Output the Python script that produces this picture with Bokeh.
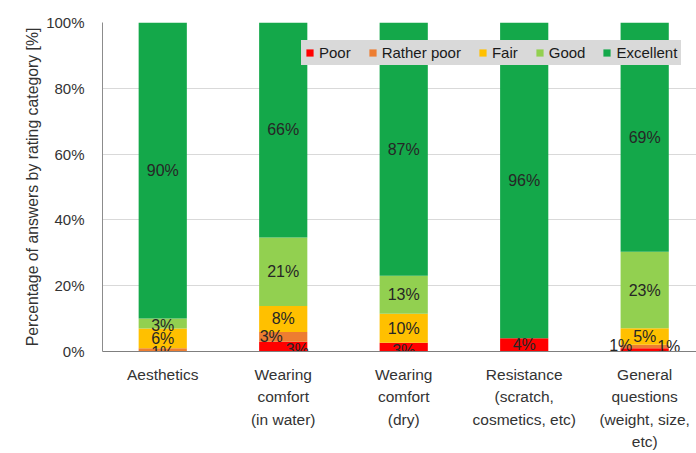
from bokeh.plotting import figure
from bokeh.models import ColumnDataSource, Range1d, FixedTicker, PrintfTickFormatter, Legend, LegendItem
from bokeh.embed import file_html
from bokeh.resources import INLINE
from bokeh.core.properties import value

# ---- data (answer counts in % per rating, as labelled) ----
categories = [
    "Aesthetics",
    "Wearing\ncomfort\n(in water)",
    "Wearing\ncomfort\n(dry)",
    "Resistance\n(scratch,\ncosmetics, etc)",
    "General\nquestions\n(weight, size,\netc)",
]
ratings = ["Poor", "Rather poor", "Fair", "Good", "Excellent"]
poor = [0, 3, 3, 4, 1]
rather_poor = [1, 3, 0, 0, 1]
fair = [6, 8, 10, 0, 5]
good = [3, 21, 13, 0, 23]
excellent = [90, 66, 87, 96, 69]
y_ticks = [0, 20, 40, 60, 80, 100]

colors = ["#ff0000", "#ed7d31", "#ffc000", "#92d050", "#14a84a"]
FONT = "Liberation Sans"

series = [poor, rather_poor, fair, good, excellent]
n = len(categories)
xpos = [i + 0.5 for i in range(n)]
totals = [sum(s[i] for s in series) for i in range(n)]

# 100% stacked: each bar normalised to its total
data = {"x": xpos}
for r, s in zip(ratings, series):
    data[r] = [s[i] / totals[i] * 100 for i in range(n)]
source = ColumnDataSource(data)

p = figure(width=696, height=453, x_range=Range1d(0, 4.93), y_range=Range1d(0, 100),
           output_backend="svg", toolbar_location=None,
           min_border_left=102, min_border_right=0, min_border_top=22, min_border_bottom=101)
p.outline_line_color = None
p.background_fill_color = "white"

rends = p.vbar_stack(ratings, x="x", width=0.4, fill_color=colors, line_color=None, source=source)

# segment labels
nudges = {
    (1, "Rather poor"): (-12, 0),
    (1, "Poor"): (14, 3),
    (2, "Poor"): (0, 3),
    (0, "Rather poor"): (0, 3),
    (4, "Poor"): (-24, -4),
    (4, "Rather poor"): (24, 0),
    (0, "Good"): (0, 2),
}
lx, ly, lt, lxo, lyo = [], [], [], [], []
for i in range(n):
    base = 0.0
    for r, s in zip(ratings, series):
        h = data[r][i]
        if s[i] > 0:
            lx.append(xpos[i])
            ly.append(base + h / 2)
            lt.append(f"{s[i]}%")
            xo, yo = nudges.get((i, r), (0, 0))
            lxo.append(xo)
            lyo.append(yo)
        base += h
lsrc = ColumnDataSource(dict(x=lx, y=ly, text=lt, xo=lxo, yo=lyo))
p.text(x="x", y="y", text="text", x_offset="xo", y_offset="yo", source=lsrc,
       text_align="center", text_baseline="middle", text_font=value(FONT),
       text_font_size="16px", text_color="#262626")

# axes
p.xaxis.ticker = FixedTicker(ticks=xpos)
p.xaxis.major_label_overrides = {x: c for x, c in zip(xpos, categories)}
p.xaxis.major_label_text_font = FONT
p.xaxis.major_label_text_font_size = "15.5px"
p.xaxis.major_label_text_color = "#333333"
p.xaxis.major_label_text_line_height = 1.33
p.xaxis.major_label_standoff = 8
p.xaxis.axis_line_color = "#7f7f7f"
p.xaxis.major_tick_line_color = None
p.xaxis.minor_tick_line_color = None

p.yaxis.ticker = FixedTicker(ticks=y_ticks)
p.yaxis.formatter = PrintfTickFormatter(format="%d%%")
p.yaxis.major_label_text_font = FONT
p.yaxis.major_label_text_font_size = "15px"
p.yaxis.major_label_text_color = "#333333"
p.yaxis.major_label_standoff = 12
p.yaxis.axis_line_color = "#8c8c8c"
p.yaxis.major_tick_line_color = None
p.yaxis.minor_tick_line_color = None
p.yaxis.axis_label = "Percentage of answers by rating category [%]"
p.yaxis.axis_label_text_font = FONT
p.yaxis.axis_label_text_font_size = "15.8px"
p.yaxis.axis_label_text_font_style = "normal"
p.yaxis.axis_label_text_color = "#333333"
p.yaxis.axis_label_standoff = 2

p.xgrid.visible = False
p.ygrid.ticker = FixedTicker(ticks=y_ticks)
p.ygrid.grid_line_color = "#d9d9d9"

legend = Legend(items=[LegendItem(label=r, renderers=[rr]) for r, rr in zip(ratings, rends)],
                orientation="horizontal", location=(199, 286),
                background_fill_color="#d9d9d9", background_fill_alpha=1.0,
                border_line_color="#d9d9d9", border_line_width=1, padding=3, spacing=17,
                glyph_width=9, glyph_height=9, label_standoff=5,
                label_text_font=FONT, label_text_font_size="15px", label_text_color="#1a1a1a",
                label_height=10)
p.add_layout(legend, "center")

open("out.html", "w").write(file_html(p, INLINE))
